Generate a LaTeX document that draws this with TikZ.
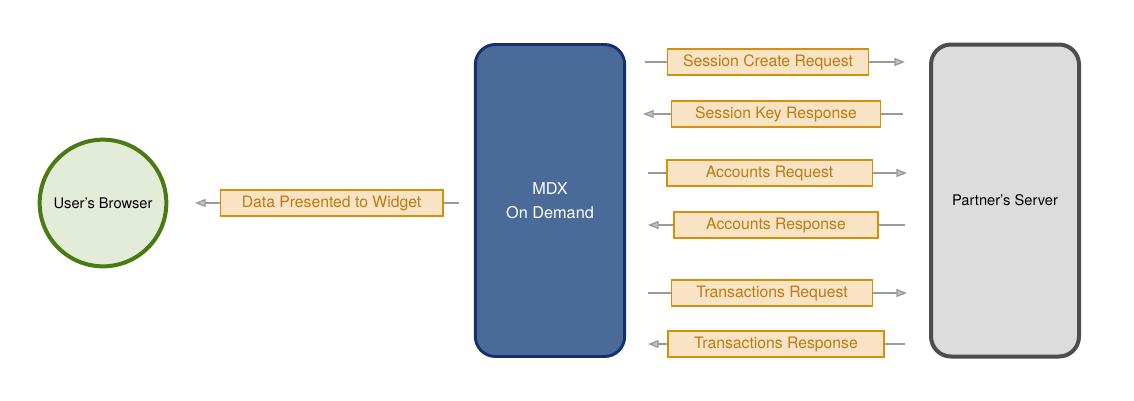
\documentclass[tikz,border=0pt]{standalone}
\usepackage{fontspec}
\setmainfont{TeX Gyre Heros}
\usetikzlibrary{arrows.meta}
\definecolor{lblfill}{HTML}{F8E3C4}
\definecolor{lbldraw}{HTML}{D4900C}
\definecolor{lbltext}{HTML}{C07A10}
\definecolor{arr}{HTML}{9A9A9A}
\begin{document}
\begin{tikzpicture}[x=0.75pt,y=-0.75pt,
  lbl/.style={draw=lbldraw,fill=lblfill,text=lbltext,line width=1pt,minimum height=19.5pt,text height=8.5pt,text depth=2.5pt,inner xsep=0pt,font=\fontsize{11.8}{13}\selectfont,anchor=center},
  con/.style={draw=arr,line width=1pt},
  tip/.style={con,-{Triangle[length=8pt,width=6pt,fill=arr!60]}}]
\useasboundingbox (0,0) rectangle (1134,400);
\node[circle,draw={rgb,255:red,74;green,122;blue,18},fill={rgb,255:red,227;green,235;blue,217},line width=3pt,minimum size=95pt,font=\fontsize{11}{13}\selectfont] (br) at (103,203) {User’s Browser};
\node[draw={rgb,255:red,22;green,48;blue,110},fill={rgb,255:red,74;green,106;blue,154},line width=2.2pt,rounded corners=15pt,minimum width=112pt,minimum height=234pt,text=white,align=center,font=\fontsize{12.2}{18}\selectfont] (mdx) at (550,200.5) {MDX\\On Demand};
\node[draw={rgb,255:red,77;green,77;blue,77},fill={rgb,255:red,220;green,220;blue,220},line width=3pt,rounded corners=15pt,minimum width=111pt,minimum height=234pt,font=\fontsize{11}{13}\selectfont] (ps) at (1005,200.5) {Partner’s Server};
% left
\node[lbl,minimum width=167pt] (l0) at (331.5,203) {Data Presented to Widget};
\coordinate (s0) at (459,203); \coordinate (e0) at (195,203);
\draw[con] (s0) -- (l0.east); \draw[tip] (l0.west) -- (e0);
% rows right
\node[lbl,minimum width=151pt] (l1) at (768,62) {Session Create Request};
\coordinate (s1) at (645,62); \coordinate (e1) at (905,62);
\draw[con] (s1) -- (l1.west); \draw[tip] (l1.east) -- (e1);
\node[lbl,minimum width=157pt] (l2) at (776,114) {Session Key Response};
\coordinate (s2) at (903,114); \coordinate (e2) at (643,114);
\draw[con] (s2) -- (l2.east); \draw[tip] (l2.west) -- (e2);
\node[lbl,minimum width=154pt] (l3) at (769.5,173) {Accounts Request};
\coordinate (s3) at (648,173); \coordinate (e3) at (907,173);
\draw[con] (s3) -- (l3.west); \draw[tip] (l3.east) -- (e3);
\node[lbl,minimum width=153pt] (l4) at (776,225) {Accounts Response};
\coordinate (s4) at (905,225); \coordinate (e4) at (648,225);
\draw[con] (s4) -- (l4.east); \draw[tip] (l4.west) -- (e4);
\node[lbl,minimum width=151pt] (l5) at (772,293) {Transactions Request};
\coordinate (s5) at (648,293); \coordinate (e5) at (907,293);
\draw[con] (s5) -- (l5.west); \draw[tip] (l5.east) -- (e5);
\node[lbl,minimum width=162pt] (l6) at (776,344) {Transactions Response};
\coordinate (s6) at (905,344); \coordinate (e6) at (648,344);
\draw[con] (s6) -- (l6.east); \draw[tip] (l6.west) -- (e6);
\end{tikzpicture}
\end{document}
